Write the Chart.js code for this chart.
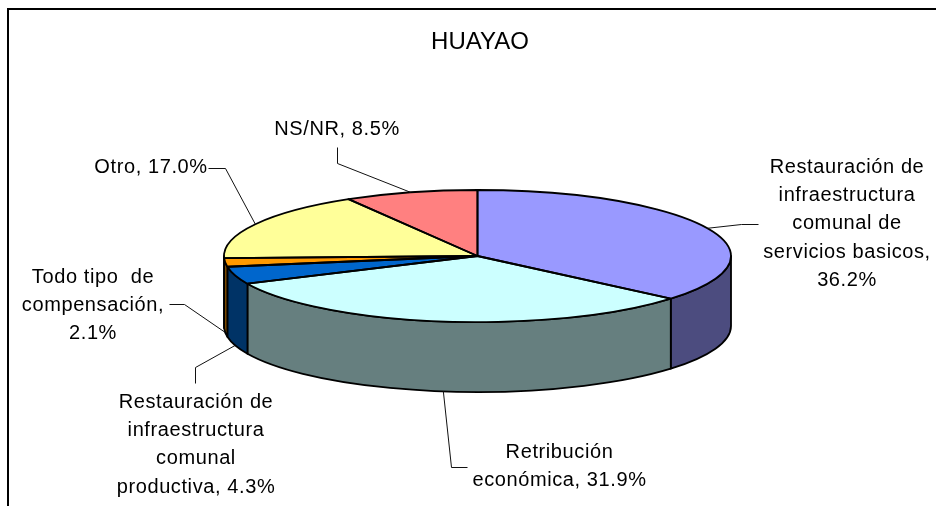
<!DOCTYPE html>
<html><head><meta charset="utf-8">
<style>html,body{margin:0;padding:0;background:#fff}#w{width:936px;height:506px;position:relative}canvas{display:block}</style>
<script src="https://cdn.jsdelivr.net/npm/chart.js@4"></script>
</head><body><div id="w"><canvas id="c" width="936" height="506"></canvas></div>
<script>
const categories = ["Restauración de infraestructura comunal de servicios basicos","Retribución económica","Restauración de infraestructura comunal productiva","Todo tipo de compensación","Otro","NS/NR"];
const values = [36.2,31.9,4.3,2.1,17.0,8.5];
const topColors = ["#9999FF","#CCFFFF","#0066CC","#FF9900","#FFFF99","#FF8080"];
const sideColors = ["#4C4C7F","#667F7F","#003366","#7F4C00","#7F7F4C","#7F4040"];
const labelLines = [
 ["Restauración de","infraestructura","comunal de","servicios basicos,","36.2%"],
 ["Retribución","económica, 31.9%"],
 ["Restauración de","infraestructura","comunal","productiva, 4.3%"],
 ["Todo tipo  de","compensación,","2.1%"],
 ["Otro, 17.0%"],
 ["NS/NR, 8.5%"]
];
const title = "HUAYAO";

// layout only
const CX=477.5, CY=256, R=253.5, RY=66, DEPTH=70;
const labelPos=[[847,166],[559.5,451],[196,401],[93,276],[151,166],[337,128]];
const elbows=[[[741,224],[758,224]],[[451,467],[467,467]],[[195,367],[195,383]],[[184,304],[169,304]],[[225,168],[208,168]],[[337,163],[337,147]]];
const LINE=28.2, FONT='20px "Liberation Sans", Arial, sans-serif';

const norm=a=>{a%=2*Math.PI;return a<0?a+2*Math.PI:a;};
const pie3d={id:'pie3d',
 beforeDatasetsDraw(chart){
  const ctx=chart.ctx, arcs=chart.getDatasetMeta(0).data;
  ctx.save();
  ctx.strokeStyle='#000';ctx.lineWidth=2;ctx.beginPath();ctx.moveTo(8,506);ctx.lineTo(8,9);ctx.lineTo(936,9);ctx.stroke();
  arcs.forEach((a,i)=>{
   let s=norm(a.startAngle), e=s+(a.endAngle-a.startAngle);
   const ranges=[[s,e],[s-2*Math.PI,e-2*Math.PI]];
   ranges.forEach(([p,q])=>{
    const st=Math.max(p,0), en=Math.min(q,Math.PI);
    if(en<=st) return;
    ctx.beginPath();
    ctx.ellipse(CX,CY,R,RY,0,st,en,false);
    ctx.ellipse(CX,CY+DEPTH,R,RY,0,en,st,true);
    ctx.closePath();
    ctx.fillStyle=sideColors[i];ctx.fill();
    ctx.strokeStyle='#000';ctx.lineWidth=1.8;ctx.lineJoin='round';ctx.stroke();
   });
  });
  ctx.restore();
  const el=arcs[0];
  ctx.save();
  ctx.translate(CX,CY);ctx.scale(R/el.outerRadius,RY/el.outerRadius);ctx.translate(-el.x,-el.y);
 },
 afterDatasetsDraw(chart){
  const ctx=chart.ctx, arcs=chart.getDatasetMeta(0).data;
  ctx.restore();
  ctx.save();
  ctx.strokeStyle='#000';ctx.lineWidth=1.8;ctx.lineJoin='round';
  arcs.forEach(a=>{
   ctx.beginPath();
   ctx.moveTo(CX,CY);
   ctx.ellipse(CX,CY,R,RY,0,a.startAngle,a.endAngle,false);
   ctx.closePath();ctx.stroke();
  });
  ctx.lineWidth=1;ctx.strokeStyle='#111';
  arcs.forEach((a,i)=>{
   const m=(a.startAngle+a.endAngle)/2;
   const x=CX+R*Math.cos(m), y=CY+RY*Math.sin(m)+(Math.sin(m)>0?DEPTH:0);
   ctx.beginPath();ctx.moveTo(x,y);
   elbows[i].forEach(p=>ctx.lineTo(p[0]+.5,p[1]+.5));
   ctx.stroke();
   ctx.fillStyle='#000';ctx.font=FONT;ctx.letterSpacing='0.6px';ctx.textAlign='center';ctx.textBaseline='alphabetic';
   labelLines[i].forEach((t,k)=>ctx.fillText(t,labelPos[i][0],labelPos[i][1]+7+k*LINE));
  });
  ctx.restore();
 }
};
new Chart(document.getElementById('c'),{
 type:'pie',
 data:{labels:categories,datasets:[{data:values,backgroundColor:topColors,borderWidth:0,radius:253,clip:false}]},
 plugins:[pie3d],
 options:{responsive:false,animation:false,rotation:0,
  layout:{padding:{left:24,right:0,top:0,bottom:0}},
  plugins:{legend:{display:false},tooltip:{enabled:false},
   title:{display:true,text:title,color:'#000',font:{family:'"Liberation Sans", Arial, sans-serif',size:24,weight:'normal'},padding:{top:28,bottom:10}}}}
});
</script></body></html>
